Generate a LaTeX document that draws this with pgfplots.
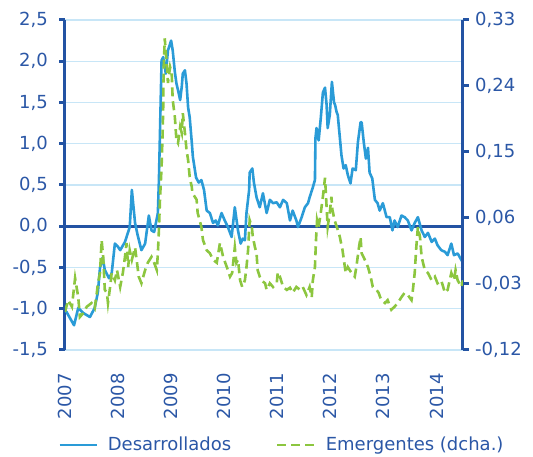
\documentclass[border=0pt]{standalone}
\usepackage{pgfplots}
\pgfplotsset{compat=1.18}
\usepackage{fontspec}
\setmainfont{DejaVu Sans}
\definecolor{axblue}{HTML}{2353A3}
\definecolor{txtblue}{HTML}{2B57A6}
\definecolor{lineblue}{HTML}{2A9BD7}
\definecolor{linegreen}{HTML}{8CC63F}
\definecolor{gridblue}{HTML}{C8E6F7}
\begin{document}
\fontsize{18}{21}\selectfont
\begin{tikzpicture}
\pgfplotsset{
  every axis/.append style={
    scale only axis, width=398pt, height=330pt,
    xmin=2007, xmax=2014.5,
    at={(0,0)}, anchor=south west,
    /pgf/number format/assume math mode=true,
    tick label style={font=\fontsize{18}{21}\selectfont, text=txtblue},
    tick align=outside, major tick length=6pt,
  }
}
\begin{axis}[
  ymin=-1.5, ymax=2.5, ytick={-1.5,-1,-0.5,0,0.5,1,1.5,2,2.5},
  axis y line*=left, axis x line*=bottom,
  x axis line style={draw=none},
  y axis line style={draw=axblue, line width=3pt, -},
  xtick={2007,2008,2009,2010,2011,2012,2013,2014},
  xticklabels={2007,2008,2009,2010,2011,2012,2013,2014},
  xticklabel style={rotate=90, anchor=east, inner sep=0pt},
  xticklabel shift=17pt,
  xtick style={draw=none},
  ytick style={draw=axblue, line width=3pt},
  ymajorgrids, grid style={gridblue, line width=1.2pt},
  yticklabel style={xshift=-5pt, /pgf/number format/use comma, /pgf/number format/fixed, /pgf/number format/fixed zerofill, /pgf/number format/precision=1},
]
\addplot[axblue, line width=3pt, forget plot] coordinates {(2007,0) (2014.5,0)};
\addplot[lineblue, line width=2.6pt, line join=round] coordinates {
(2007.00,-1.02) (2007.03,-1.04) (2007.10,-1.12) (2007.17,-1.20) (2007.25,-0.99) (2007.34,-1.05) (2007.47,-1.10) (2007.56,-0.99)
(2007.62,-0.80) (2007.66,-0.50) (2007.71,-0.38) (2007.75,-0.53) (2007.83,-0.63) (2007.88,-0.57)
(2007.94,-0.21) (2008.00,-0.25) (2008.04,-0.29) (2008.13,-0.19) (2008.19,-0.07) (2008.22,-0.01)
(2008.26,0.44) (2008.32,0.04) (2008.37,-0.11) (2008.44,-0.29) (2008.51,-0.21) (2008.58,0.13)
(2008.63,-0.05) (2008.68,-0.07) (2008.75,0.16) (2008.77,0.56) (2008.82,2.01) (2008.85,2.05)
(2008.90,1.85) (2008.94,2.13) (2009.00,2.25) (2009.03,2.13) (2009.07,1.87) (2009.10,1.73)
(2009.13,1.65) (2009.17,1.53) (2009.20,1.69) (2009.22,1.85) (2009.26,1.89) (2009.29,1.73)
(2009.32,1.44) (2009.35,1.32) (2009.39,1.01) (2009.41,0.84) (2009.47,0.59) (2009.52,0.53)
(2009.57,0.56) (2009.62,0.44) (2009.67,0.19) (2009.73,0.16) (2009.79,0.04) (2009.84,0.07)
(2009.88,0.01) (2009.95,0.16) (2010.01,0.07) (2010.07,-0.01) (2010.14,-0.13) (2010.20,0.23)
(2010.26,-0.05) (2010.31,-0.21) (2010.35,-0.15) (2010.39,-0.17) (2010.42,0.16) (2010.47,0.44)
(2010.48,0.65) (2010.53,0.70) (2010.56,0.53) (2010.61,0.35) (2010.67,0.23) (2010.73,0.40)
(2010.80,0.16) (2010.86,0.32) (2010.92,0.28) (2010.99,0.29) (2011.05,0.23) (2011.11,0.32)
(2011.18,0.28) (2011.24,0.07) (2011.29,0.19) (2011.36,0.07) (2011.39,-0.01) (2011.46,0.11)
(2011.52,0.23) (2011.58,0.28) (2011.61,0.35) (2011.67,0.47) (2011.71,0.56) (2011.72,1.07)
(2011.74,1.19) (2011.78,1.04) (2011.82,1.31) (2011.86,1.62) (2011.90,1.68) (2011.93,1.47)
(2011.95,1.19) (2011.99,1.35) (2012.03,1.75) (2012.07,1.50) (2012.09,1.47) (2012.12,1.38)
(2012.14,1.35) (2012.21,0.86) (2012.25,0.70) (2012.29,0.74) (2012.33,0.62) (2012.38,0.52)
(2012.42,0.70) (2012.48,0.68) (2012.52,1.02) (2012.57,1.26) (2012.59,1.26) (2012.63,1.02)
(2012.67,0.82) (2012.71,0.95) (2012.74,0.65) (2012.79,0.58) (2012.84,0.32) (2012.89,0.28)
(2012.93,0.19) (2012.99,0.28) (2013.06,0.11) (2013.12,0.11) (2013.17,-0.05) (2013.21,0.07)
(2013.27,-0.01) (2013.34,0.13) (2013.40,0.11) (2013.46,0.07) (2013.53,-0.05) (2013.59,0.04)
(2013.65,0.11) (2013.72,-0.05) (2013.78,-0.13) (2013.84,-0.08) (2013.91,-0.19) (2013.97,-0.15)
(2014.02,-0.23) (2014.09,-0.29) (2014.16,-0.31) (2014.21,-0.35) (2014.28,-0.21) (2014.33,-0.35)
(2014.40,-0.33) (2014.47,-0.41) (2014.50,-0.44)
};
\end{axis}
\begin{axis}[
  ymin=-0.12, ymax=0.33, ytick={-0.12,-0.03,0.06,0.15,0.24,0.33},
  axis y line*=right, axis x line=none,
  y axis line style={draw=axblue, line width=3pt, -},
  ytick style={draw=axblue, line width=3pt},
  yticklabel style={/pgf/number format/use comma, /pgf/number format/fixed, /pgf/number format/fixed zerofill, /pgf/number format/precision=2},
  legend columns=2,
  legend style={draw=none, fill=none, at={(0.545,-0.288)}, anchor=center,
    font=\fontsize{18}{21}\selectfont, text=txtblue,
    /tikz/every even column/.append style={column sep=43pt}},
  legend image code/.code={\draw[#1] (0pt,0pt) -- (37pt,0pt); \path (45pt,0pt);},
]
\addlegendimage{lineblue, line width=2.6pt}
\addlegendentry{Desarrollados}
\addplot[linegreen, line width=2.6pt, dash pattern=on 9pt off 5pt] coordinates {
(2007.00,-0.068) (2007.06,-0.052) (2007.13,-0.061) (2007.19,-0.022) (2007.25,-0.048) (2007.28,-0.075)
(2007.34,-0.070) (2007.41,-0.061) (2007.50,-0.056) (2007.56,-0.063) (2007.60,-0.042) (2007.62,-0.029)
(2007.66,-0.015) (2007.69,0.030) (2007.72,0.007) (2007.75,-0.038) (2007.79,-0.042) (2007.81,-0.056)
(2007.85,-0.034) (2007.88,-0.015) (2007.94,-0.025) (2007.98,-0.011) (2008.04,-0.034) (2008.09,-0.015)
(2008.13,0.007) (2008.16,0.026) (2008.19,-0.007) (2008.22,0.016) (2008.26,0.003) (2008.32,0.020)
(2008.35,0.003) (2008.39,-0.020) (2008.44,-0.029) (2008.51,-0.011) (2008.56,-0.001) (2008.63,0.007)
(2008.68,-0.001) (2008.73,-0.011) (2008.75,0.012) (2008.77,0.044) (2008.79,0.085) (2008.82,0.130)
(2008.84,0.176) (2008.85,0.207) (2008.86,0.266) (2008.88,0.305) (2008.92,0.266) (2008.94,0.244)
(2008.98,0.266) (2009.01,0.258) (2009.03,0.221) (2009.07,0.198) (2009.10,0.166) (2009.13,0.162)
(2009.17,0.184) (2009.20,0.176) (2009.22,0.203) (2009.26,0.176) (2009.29,0.153) (2009.32,0.139)
(2009.35,0.116) (2009.39,0.102) (2009.40,0.094) (2009.48,0.085) (2009.50,0.067) (2009.57,0.048)
(2009.60,0.030) (2009.67,0.016) (2009.73,0.012) (2009.79,0.003) (2009.86,-0.001) (2009.92,0.026)
(2009.98,0.007) (2010.05,-0.007) (2010.11,-0.020) (2010.15,-0.015) (2010.20,0.020) (2010.23,-0.001)
(2010.26,0.003) (2010.30,-0.025) (2010.34,-0.034) (2010.39,-0.025) (2010.42,-0.007) (2010.45,0.016)
(2010.48,0.057) (2010.52,0.048) (2010.54,0.034) (2010.58,0.020) (2010.61,0.012) (2010.63,-0.011)
(2010.67,-0.020) (2010.70,-0.025) (2010.77,-0.029) (2010.80,-0.038) (2010.86,-0.029) (2010.92,-0.034)
(2010.99,-0.029) (2011.01,-0.014) (2011.05,-0.020) (2011.11,-0.034) (2011.18,-0.038) (2011.24,-0.035)
(2011.29,-0.042) (2011.36,-0.034) (2011.43,-0.038) (2011.48,-0.034) (2011.55,-0.045) (2011.61,-0.034)
(2011.65,-0.048) (2011.67,-0.025) (2011.71,-0.007) (2011.73,0.030) (2011.75,0.057) (2011.78,0.048)
(2011.82,0.067) (2011.86,0.089) (2011.90,0.115) (2011.95,0.048) (2011.99,0.067) (2012.02,0.089)
(2012.04,0.071) (2012.08,0.057) (2012.14,0.044) (2012.18,0.034) (2012.23,0.016) (2012.29,-0.015)
(2012.33,-0.007) (2012.40,-0.015) (2012.46,-0.020) (2012.49,-0.007) (2012.54,0.020) (2012.57,0.034)
(2012.59,0.012) (2012.65,0.003) (2012.71,-0.007) (2012.76,-0.020) (2012.80,-0.034) (2012.87,-0.038)
(2012.91,-0.042) (2012.96,-0.052) (2013.03,-0.056) (2013.08,-0.052) (2013.15,-0.065) (2013.21,-0.061)
(2013.27,-0.056) (2013.34,-0.048) (2013.40,-0.042) (2013.46,-0.045) (2013.53,-0.052) (2013.55,-0.042)
(2013.59,-0.015) (2013.62,0.020) (2013.65,0.048) (2013.69,0.034) (2013.72,0.007) (2013.78,-0.011)
(2013.84,-0.015) (2013.91,-0.025) (2013.97,-0.020) (2014.02,-0.029) (2014.09,-0.025) (2014.16,-0.042)
(2014.21,-0.038) (2014.28,-0.015) (2014.33,-0.025) (2014.36,-0.011) (2014.40,-0.025) (2014.47,-0.034)
(2014.50,-0.025)
};
\addlegendentry{Emergentes (dcha.)}
\end{axis}
\pgfresetboundingbox
\path[use as bounding box] (-65pt,-107pt) rectangle (468pt,350pt);
\end{tikzpicture}
\end{document}
